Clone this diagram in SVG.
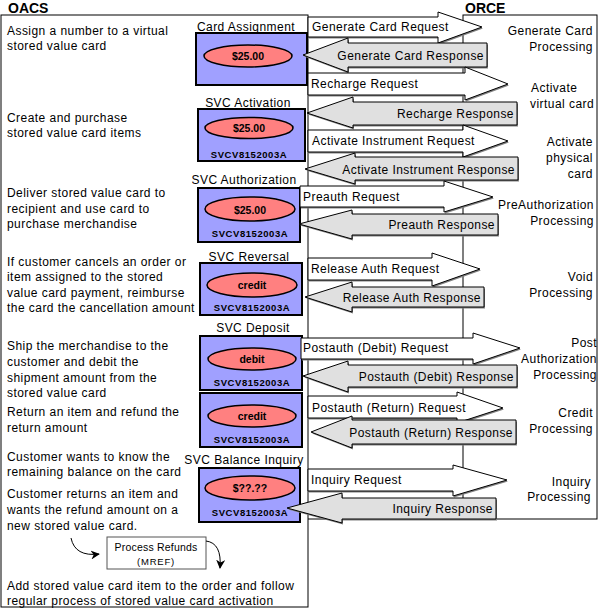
<svg xmlns="http://www.w3.org/2000/svg" width="599" height="609" viewBox="0 0 599 609">
<defs>
<style>
text{font-family:"Liberation Sans",Arial,sans-serif;font-size:12px;letter-spacing:0.45px;fill:#000}
.h{font-weight:bold;font-size:14px;letter-spacing:0}
.c{text-anchor:middle}
.e{text-anchor:end}
.card rect{fill:#a0a0ff;stroke:#000;stroke-width:2}
.card ellipse{fill:#ff8080;stroke:#000;stroke-width:1.5}
.amt{font-weight:bold;font-size:10.5px;letter-spacing:0;text-anchor:middle}
.id{font-weight:bold;font-size:9.5px;letter-spacing:0.55px;text-anchor:middle}
.req{fill:#fff;stroke:#000;stroke-width:1}
.resp{fill:#e0e0e0;stroke:#000;stroke-width:1}
.sh{fill:#808080;stroke:none}
.frame{fill:none;stroke:#000;stroke-width:1}
.curve{fill:none;stroke:#000;stroke-width:1}
</style>
<marker id="ah" viewBox="0 0 10 10" refX="9" refY="5" markerWidth="9" markerHeight="9" markerUnits="userSpaceOnUse" orient="auto">
<path d="M0,0 L10,5 L0,10 L3,5 z" fill="#000"/>
</marker>
<polygon id="q1" points="308,17 438,17 438,12 482,27 438,43 438,37 308,37"/>
<polygon id="p1" points="303,55 348,38 348,43 487,43 487,67 348,67 348,72"/>
<polygon id="q2" points="308,73 465,73 465,67 508,84 465,100 465,95 308,95"/>
<polygon id="p2" points="307,113 353,97 353,102 517,102 517,125 353,125 353,128"/>
<polygon id="q3" points="308,130 463,130 463,125 508,141 463,157 463,152 308,152"/>
<polygon id="p3" points="305,169 355,153 355,157 518,157 518,180 355,180 355,184"/>
<polygon id="q4" points="300,186 444,186 444,181 493,197 444,212 444,207 300,207"/>
<polygon id="p4" points="299,224 352,210 352,214 498,214 498,235 352,235 352,239"/>
<polygon id="q5" points="308,258 432,258 432,253 480,269 432,286 432,280 308,280"/>
<polygon id="p5" points="305,297 352,282 352,287 484,287 484,307 352,307 352,312"/>
<polygon id="q6" points="301,338 473,338 473,333 520,348 473,364 473,359 301,359"/>
<polygon id="p6" points="303,376 348,361 348,365 517,365 517,387 348,387 348,392"/>
<polygon id="q7" points="308,396 457,396 457,392 503,408 457,423 457,418 308,418"/>
<polygon id="p7" points="311,432 352,416 352,420 516,420 516,444 352,444 352,448"/>
<polygon id="q8" points="308,469 453,469 453,465 507,480 453,496 453,491 308,491"/>
<polygon id="p8" points="287,508 342,493 342,498 496,498 496,519 342,519 342,523"/>
</defs>

<g id="frames">
<text class="h" x="8" y="13">OACS</text>
<text class="h" x="465" y="13">ORCE</text>
<rect class="frame" x="1" y="15" width="307" height="592"/>
<rect id="orce" class="frame" x="463" y="15" width="134" height="504"/>
<line class="frame" x1="308" y1="519" x2="463" y2="519"/>
</g>

<g id="oacs-texts">
<text x="7" y="35">Assign a number to a virtual</text>
<text x="7" y="50">stored value card</text>
<text x="7" y="122">Create and purchase</text>
<text x="7" y="137">stored value card items</text>
<text x="7" y="197">Deliver stored value card to</text>
<text x="7" y="213">recipient and use card to</text>
<text x="7" y="228">purchase merchandise</text>
<text x="7" y="266">If customer cancels an order or</text>
<text x="7" y="281">item assigned to the stored</text>
<text x="7" y="297">value card payment, reimburse</text>
<text x="7" y="312">the card the cancellation amount</text>
<text x="7" y="350">Ship the merchandise to the</text>
<text x="7" y="366">customer and debit the</text>
<text x="7" y="382">shipment amount from the</text>
<text x="7" y="397">stored value card</text>
<text x="7" y="416">Return an item and refund the</text>
<text x="7" y="432">return amount</text>
<text x="7" y="461">Customer wants to know the</text>
<text x="7" y="476">remaining balance on the card</text>
<text x="7" y="498">Customer returns an item and</text>
<text x="7" y="514">wants the refund amount on a</text>
<text x="7" y="530">new stored value card.</text>
<text x="7" y="590">Add stored value card item to the order and follow</text>
<text x="7" y="605">regular process of stored value card activation</text>
</g>

<g id="orce-texts">
<text class="e" x="593" y="35">Generate Card</text>
<text class="e" x="593" y="51">Processing</text>
<text x="531" y="92">Activate</text>
<text x="530" y="108">virtual card</text>
<text class="e" x="593" y="146">Activate</text>
<text class="e" x="593" y="162">physical</text>
<text class="e" x="593" y="178">card</text>
<text class="e" x="594" y="209">PreAuthorization</text>
<text class="e" x="594" y="225">Processing</text>
<text class="e" x="593" y="281">Void</text>
<text class="e" x="593" y="297">Processing</text>
<text class="e" x="597" y="347">Post</text>
<text class="e" x="597" y="363">Authorization</text>
<text class="e" x="597" y="379">Processing</text>
<text class="e" x="593" y="417">Credit</text>
<text class="e" x="593" y="433">Processing</text>
<text class="e" x="591" y="486">Inquiry</text>
<text class="e" x="591" y="501">Processing</text>
</g>

<g id="card-assignment" class="card">
<text class="c" x="246" y="31">Card Assignment</text>
<rect x="196" y="33" width="111" height="52"/>
<ellipse cx="248" cy="56" rx="44" ry="11"/>
<text class="amt" x="248" y="60">$25.00</text>
</g>

<g id="svc-activation" class="card">
<text class="c" x="248" y="107">SVC Activation</text>
<rect x="198" y="109" width="107" height="52"/>
<ellipse cx="249" cy="128" rx="44" ry="10.5"/>
<text class="amt" x="249" y="132">$25.00</text>
<text class="id" x="249" y="158">SVCV8152003A</text>
</g>

<g id="svc-authorization" class="card">
<text class="c" x="244" y="184">SVC Authorization</text>
<rect x="198" y="188" width="102" height="54"/>
<ellipse cx="250" cy="209" rx="45" ry="12"/>
<text class="amt" x="250" y="213.5">$25.00</text>
<text class="id" x="250" y="237">SVCV8152003A</text>
</g>

<g id="svc-reversal" class="card">
<text class="c" x="249" y="261">SVC Reversal</text>
<rect x="200" y="263" width="102" height="52"/>
<ellipse cx="252" cy="285" rx="45" ry="12"/>
<text class="amt" x="252" y="289">credit</text>
<text class="id" x="252" y="311">SVCV8152003A</text>
</g>

<g id="svc-deposit" class="card">
<text class="c" x="253" y="332">SVC Deposit</text>
<rect x="200" y="336" width="102" height="54"/>
<ellipse cx="252" cy="359" rx="44" ry="11"/>
<text class="amt" x="252" y="363">debit</text>
<text class="id" x="252" y="386">SVCV8152003A</text>
</g>

<g id="svc-return" class="card">
<rect x="200" y="393" width="102" height="54"/>
<ellipse cx="252" cy="416" rx="44" ry="11"/>
<text class="amt" x="252" y="420">credit</text>
<text class="id" x="252" y="443">SVCV8152003A</text>
</g>

<g id="svc-balance-inquiry" class="card">
<text class="c" x="244" y="464">SVC Balance Inquiry</text>
<rect x="199" y="468" width="101" height="54"/>
<ellipse cx="250" cy="488" rx="45" ry="12"/>
<text class="amt" x="250" y="492">$??.??</text>
<text class="id" x="250" y="516">SVCV8152003A</text>
</g>

<g id="process-refunds">
<rect x="107" y="537" width="99" height="32" fill="#fff" stroke="#555" stroke-width="1"/>
<text class="c" x="156" y="551" style="font-size:10.5px;letter-spacing:0.2px">Process Refunds</text>
<text class="c" x="156" y="565" style="font-size:9.5px;letter-spacing:0.8px">(MREF)</text>
</g>

<g id="connectors">
<use href="#q1" class="sh" transform="translate(1,1.5)"/><use href="#q1" class="req"/>
<text x="312" y="31">Generate Card Request</text>
<use href="#p1" class="sh" transform="translate(1,1.5)"/><use href="#p1" class="resp"/>
<text class="e" x="484" y="60">Generate Card Response</text>

<use href="#q2" class="sh" transform="translate(1,1.5)"/><use href="#q2" class="req"/>
<text x="311" y="88">Recharge Request</text>
<use href="#p2" class="sh" transform="translate(1,1.5)"/><use href="#p2" class="resp"/>
<text class="e" x="514" y="118">Recharge Response</text>

<use href="#q3" class="sh" transform="translate(1,1.5)"/><use href="#q3" class="req"/>
<text x="312" y="145">Activate Instrument Request</text>
<use href="#p3" class="sh" transform="translate(1,1.5)"/><use href="#p3" class="resp"/>
<text class="e" x="515" y="174">Activate Instrument Response</text>

<use href="#q4" class="sh" transform="translate(1,1.5)"/><use href="#q4" class="req"/>
<text x="303" y="201">Preauth Request</text>
<use href="#p4" class="sh" transform="translate(1,1.5)"/><use href="#p4" class="resp"/>
<text class="e" x="495" y="229">Preauth Response</text>

<use href="#q5" class="sh" transform="translate(1,1.5)"/><use href="#q5" class="req"/>
<text x="311" y="273">Release Auth Request</text>
<use href="#p5" class="sh" transform="translate(1,1.5)"/><use href="#p5" class="resp"/>
<text class="e" x="481" y="302">Release Auth Response</text>

<use href="#q6" class="sh" transform="translate(1,1.5)"/><use href="#q6" class="req"/>
<text x="303" y="352">Postauth (Debit) Request</text>
<use href="#p6" class="sh" transform="translate(1,1.5)"/><use href="#p6" class="resp"/>
<text class="e" x="514" y="381">Postauth (Debit) Response</text>

<use href="#q7" class="sh" transform="translate(1,1.5)"/><use href="#q7" class="req"/>
<text x="312" y="412">Postauth (Return) Request</text>
<use href="#p7" class="sh" transform="translate(1,1.5)"/><use href="#p7" class="resp"/>
<text class="e" x="513" y="437">Postauth (Return) Response</text>

<use href="#q8" class="sh" transform="translate(1,1.5)"/><use href="#q8" class="req"/>
<text x="311" y="484">Inquiry Request</text>
<use href="#p8" class="sh" transform="translate(1,1.5)"/><use href="#p8" class="resp"/>
<text class="e" x="493" y="513">Inquiry Response</text>

<path class="curve" d="M71,538 Q75,557 99,554" marker-end="url(#ah)"/>
<path class="curve" d="M206,541 Q222,543 220,568" marker-end="url(#ah)"/>
</g>
</svg>
